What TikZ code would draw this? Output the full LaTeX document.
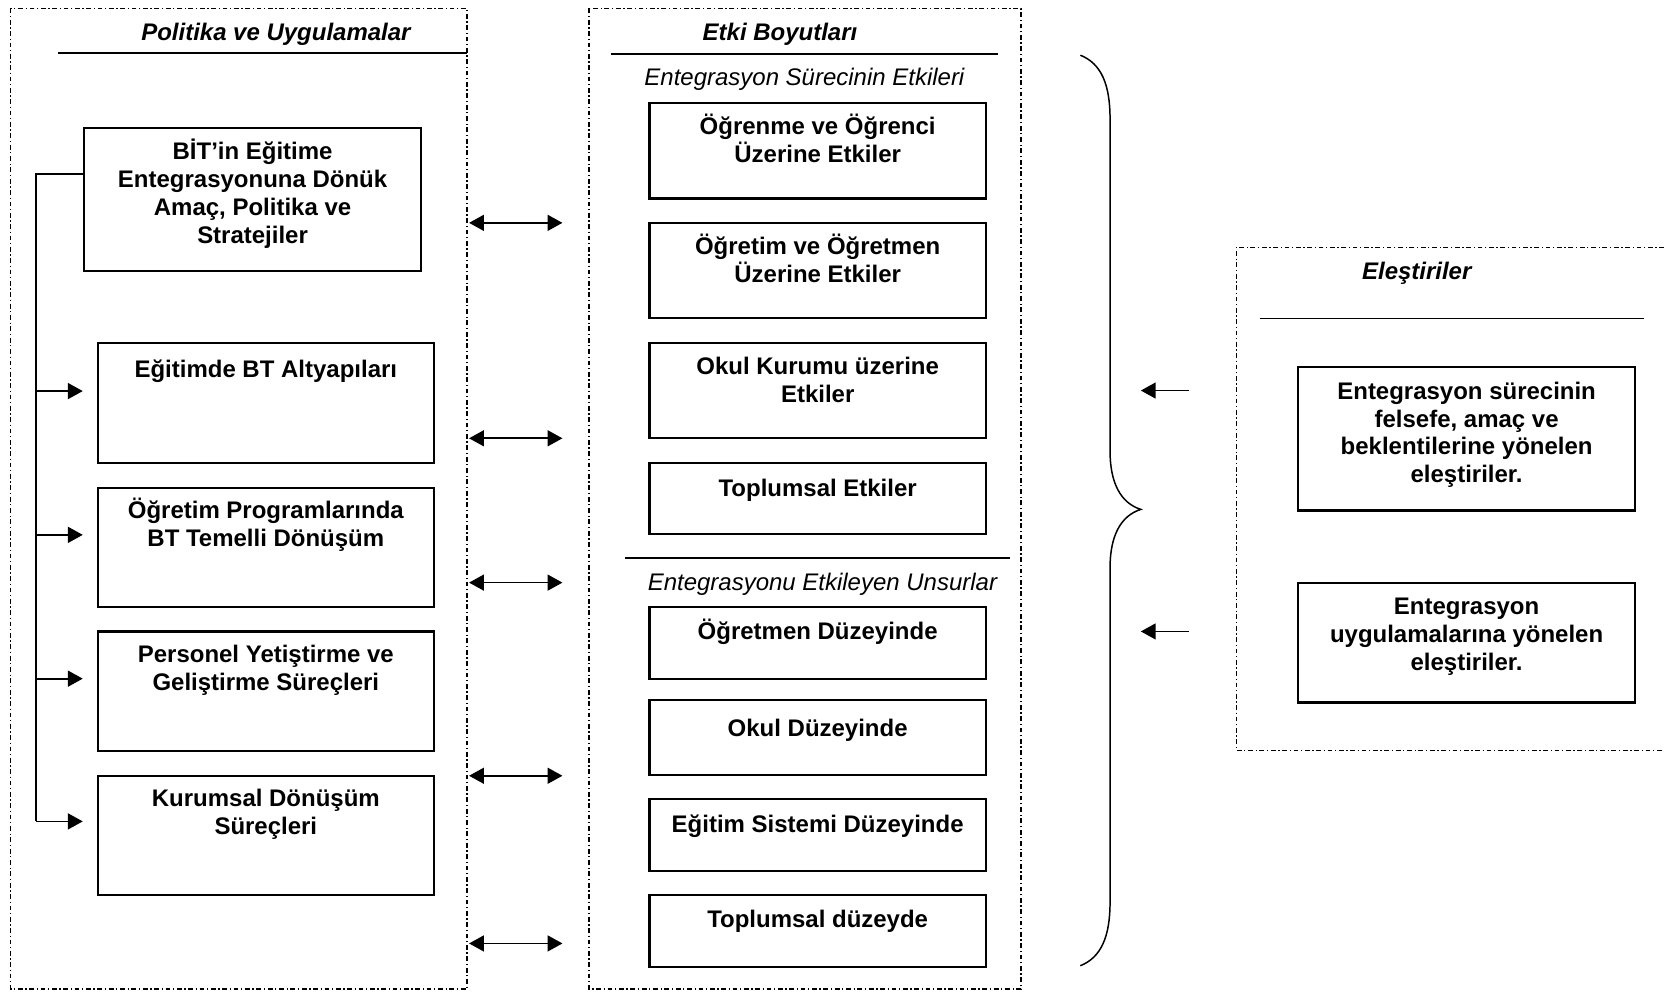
\documentclass[tikz,border=0pt]{standalone}
\usepackage{fontspec}
\setmainfont{Liberation Sans}
\usetikzlibrary{arrows.meta,positioning}
\newcommand{\diafont}{\fontsize{22.6}{26.3}\selectfont}

\tikzset{
  frame/.style={line width=1.4pt, dash pattern=on 4.5pt off 2.5pt on 1.2pt off 2.5pt},
  box/.style={draw, line width=2pt, anchor=north west, minimum width=317pt, inner sep=0pt},
  boxtext/.style={anchor=base, align=center, font=\diafont\bfseries, inner sep=0pt},
  heading/.style={anchor=base, font=\diafont\bfseries\itshape, inner sep=0pt},
  subheading/.style={anchor=base, font=\diafont\itshape, inner sep=0pt},
  conn/.style={line width=1.6pt},
  >={Triangle[length=14pt,width=15pt]}
}

\begin{document}
\begin{tikzpicture}[x=1pt,y=-1pt]
  \useasboundingbox (0,0) rectangle (1568,935);

  % frames
  \draw[frame] (10,8) rectangle (440,932);
  \draw[frame] (555,8) rectangle (962,932);
  \draw[frame] (1568,233) -- (1165,233) -- (1165,707) -- (1568,707);

  % left column (base of a multi-line text is its last line)
  \node[heading] (pol) at (260,38) {Politika ve Uygulamalar};
  \draw[conn] (55,50) -- (440,50);
  \node[box, minimum width=318pt, minimum height=134pt] (bit) at (78,120) {};
  \node[boxtext] (bitt) at ([yshift=-109pt]bit.north) {BİT’in Eğitime\\Entegrasyonuna Dönük\\Amaç, Politika ve\\Stratejiler};
  \node[box, minimum height=113pt] (alt) at (91,322) {};
  \node[boxtext] (altt) at ([yshift=-34pt]alt.north) {Eğitimde BT Altyapıları};
  \node[box, minimum height=112pt] (prg) at (91,459) {};
  \node[boxtext] (prgt) at ([yshift=-56pt]prg.north) {Öğretim Programlarında\\BT Temelli Dönüşüm};
  \node[box, minimum height=113pt] (per) at (91,594) {};
  \node[boxtext] (pert) at ([yshift=-57pt]per.north) {Personel Yetiştirme ve\\Geliştirme Süreçleri};
  \node[box, minimum height=112pt] (kur) at (91,730) {};
  \node[boxtext] (kurt) at ([yshift=-56pt]kur.north) {Kurumsal Dönüşüm\\Süreçleri};

  \coordinate (trunk) at (34,0);
  \coordinate (b0) at ([yshift=24pt]bit.west);
  \coordinate (a1) at ([yshift=11pt]alt.west);
  \coordinate (a2) at ([yshift=12pt]prg.west);
  \coordinate (a3) at ([yshift=12pt]per.west);
  \coordinate (a4) at ([yshift=13pt]kur.west);
  \draw[conn] (b0) -| (trunk |- a4);
  \foreach \a in {a1,a2,a3,a4}
    \draw[conn,->,shorten >=13pt] (trunk |- \a) -- (\a);

  % links between columns
  \foreach \y [count=\i] in {210,413,549,731,889} {
    \coordinate (l\i) at (442,\y);
    \coordinate (r\i) at (530,\y);
    \draw[conn,<->] (l\i) -- (r\i);
  }

  % middle column
  \node[heading] (etk) at (735,38) {Etki Boyutları};
  \draw[conn] (576,51) -- (940,51);
  \node[subheading] (sur) at (758,81) {Entegrasyon Sürecinin Etkileri};
  \node[box, minimum height=90pt] (m1) at (611,96) {};
  \node[boxtext] (m1t) at ([yshift=-57pt]m1.north) {Öğrenme ve Öğrenci\\Üzerine Etkiler};
  \node[box, minimum height=90pt] (m2) at (611,209) {};
  \node[boxtext] (m2t) at ([yshift=-57pt]m2.north) {Öğretim ve Öğretmen\\Üzerine Etkiler};
  \node[box, minimum height=90pt] (m3) at (611,322) {};
  \node[boxtext] (m3t) at ([yshift=-57pt]m3.north) {Okul Kurumu üzerine\\Etkiler};
  \node[box, minimum height=67pt] (m4) at (611,435) {};
  \node[boxtext] (m4t) at ([yshift=-33pt]m4.north) {Toplumsal Etkiler};
  \draw[conn] (589,526) -- (952,526);
  \node[subheading] (uns) at (775,556) {Entegrasyonu Etkileyen Unsurlar};
  \node[box, minimum height=68pt] (m5) at (611,571) {};
  \node[boxtext] (m5t) at ([yshift=-32pt]m5.north) {Öğretmen Düzeyinde};
  \node[box, minimum height=70pt] (m6) at (611,659) {};
  \node[boxtext] (m6t) at ([yshift=-35pt]m6.north) {Okul Düzeyinde};
  \node[box, minimum height=68pt] (m7) at (611,752) {};
  \node[boxtext] (m7t) at ([yshift=-32pt]m7.north) {Eğitim Sistemi Düzeyinde};
  \node[box, minimum height=68pt] (m8) at (611,842) {};
  \node[boxtext] (m8t) at ([yshift=-32pt]m8.north) {Toplumsal düzeyde};

  % brace
  \draw[line width=1.4pt] (1018,52) .. controls (1038,60) and (1046,80) .. (1046,112)
    -- (1046,425) .. controls (1046,455) and (1056,474) .. (1075,480)
    .. controls (1056,486) and (1046,505) .. (1046,535)
    -- (1046,850) .. controls (1046,882) and (1038,902) .. (1018,910);

  % right column
  \node[heading] (ele) at (1335,263) {Eleştiriler};
  \draw[conn] (1187,300) -- (1549,300);
  \node[box, minimum width=318pt, minimum height=135pt] (k1) at (1222,345) {};
  \node[boxtext] (k1t) at ([yshift=-110pt]k1.north) {Entegrasyon sürecinin\\felsefe, amaç ve\\beklentilerine yönelen\\eleştiriler.};
  \node[box, minimum width=318pt, minimum height=113pt] (k2) at (1222,548) {};
  \node[boxtext] (k2t) at ([yshift=-84pt]k2.north) {Entegrasyon\\uygulamalarına yönelen\\eleştiriler.};

  \coordinate (c1) at (1120,368);
  \coordinate (t1) at (1075,368);
  \coordinate (c2) at (1120,595);
  \coordinate (t2) at (1075,595);
  \draw[conn,->] (c1) -- (t1);
  \draw[conn,->] (c2) -- (t2);
\end{tikzpicture}
\end{document}
